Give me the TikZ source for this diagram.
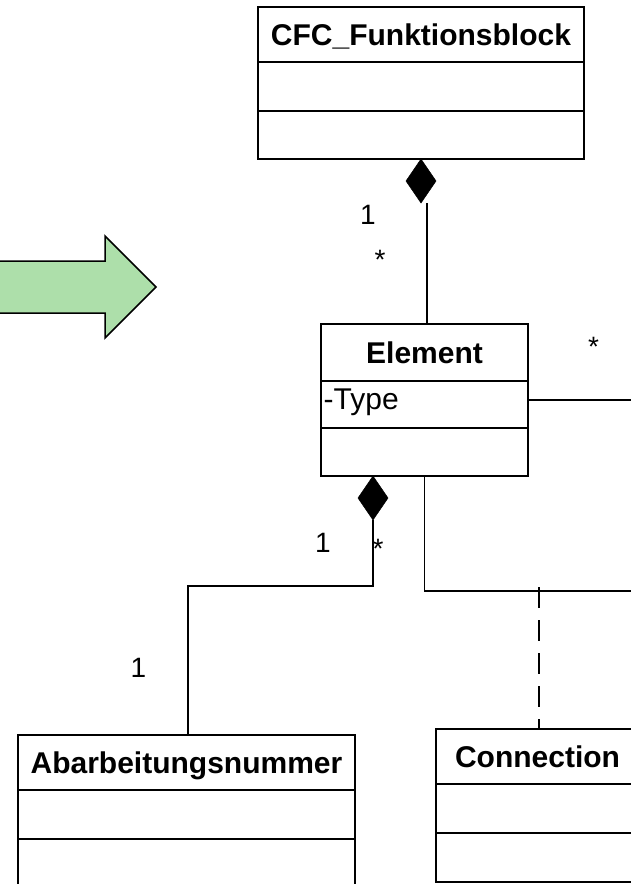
\documentclass[tikz,border=0pt]{standalone}
\usepackage{fontspec}
\setmainfont{Liberation Sans}
\usetikzlibrary{shapes.geometric}
\definecolor{arrowgreen}{RGB}{173,223,170}
\begin{document}
\begin{tikzpicture}[x=1pt,y=-1pt,
  ctitle/.style={draw, line width=2pt, inner sep=0pt, outer sep=0pt, anchor=north west,
    font=\fontsize{30}{36}\selectfont\bfseries, text height=21.5pt, text depth=0pt},
  ccomp/.style={draw, line width=2pt, inner sep=0pt, outer sep=0pt, anchor=north},
  conn/.style={line width=1.3pt},
  dashline/.style={line width=2pt, dash pattern=on 21pt off 12pt},
  comp/.style={diamond, fill=black, draw=black, line width=0.5pt, inner sep=0pt, outer sep=0pt,
    minimum width=30pt, minimum height=44pt, anchor=north},
  mult/.style={font=\fontsize{28}{32}\selectfont, inner sep=0pt}
]
\useasboundingbox (0,0) rectangle (631,884);
\clip (0,0) rectangle (631,884);

% green arrow
\draw[fill=arrowgreen, line width=1.5pt, line join=miter]
  (-5,261) -- (105,261) -- (105,236) -- (156,287) -- (105,338) -- (105,313) -- (-5,313) -- cycle;

% CFC_Funktionsblock
\node[ctitle, minimum width=326pt, minimum height=55pt] (cfc) at (258,7) {CFC\_Funktionsblock};
\node[ccomp, minimum width=326pt, minimum height=49pt] (cfcA) at (cfc.south) {};
\node[ccomp, minimum width=326pt, minimum height=48pt] (cfcO) at (cfcA.south) {};

% Element
\node[ctitle, minimum width=207pt, minimum height=57pt] (elem) at (321,324) {Element};
\node[ccomp, minimum width=207pt, minimum height=47pt] (elemA) at (elem.south) {};
\node[ccomp, minimum width=207pt, minimum height=48pt] (elemO) at (elemA.south) {};
\node[font=\fontsize{30}{36}\selectfont, inner sep=0pt, anchor=base west] (type) at (323.5,409) {-Type};

% Abarbeitungsnummer
\node[ctitle, minimum width=337pt, minimum height=55pt] (abarb) at (18,735) {Abarbeitungsnummer};
\node[ccomp, minimum width=337pt, minimum height=49pt] (abarbA) at (abarb.south) {};
\node[ccomp, minimum width=337pt, minimum height=60pt] (abarbO) at (abarbA.south) {};

% Connection
\node[ctitle, minimum width=203pt, minimum height=55pt] (connection) at (436,729) {Connection};
\node[ccomp, minimum width=203pt, minimum height=49pt] (connA) at (connection.south) {};
\node[ccomp, minimum width=203pt, minimum height=49pt] (connO) at (connA.south) {};

% composition CFC -> Element
\node[comp] (d1) at (cfcO.south) {};
\draw[conn] ([xshift=6pt]d1.south) -- ([xshift=6pt]d1.south |- elem.north);
\node[mult] (m1) at (368,215) {1};
\node[mult, anchor=base] (m2) at (380,269) {*};

% Element right association
\coordinate (rr) at (645,400);
\draw[conn] (elemA.east |- rr) -- (rr);
\node[mult, anchor=base] (m3) at (593.5,356) {*};

% composition Element -> Abarbeitungsnummer
\node[comp] (d2) at ([xshift=-51.5pt]elemO.south) {};
\coordinate (k1) at (188,586);
\draw[conn] (d2.south) |- (k1) -- (k1 |- abarb.north);
\node[mult] (m4) at (323,543) {1};
\node[mult, anchor=base] (m5) at (378,558) {*};
\node[mult] (m6) at (138.5,668) {1};

% Element lower association
\coordinate (k2) at (645,591);
\draw[conn] (elemO.south) |- (k2);

% dashed association class link
\coordinate (k3) at (539,587);
\draw[dashline] (k3) -- (k3 |- connection.north);
\end{tikzpicture}
\end{document}
